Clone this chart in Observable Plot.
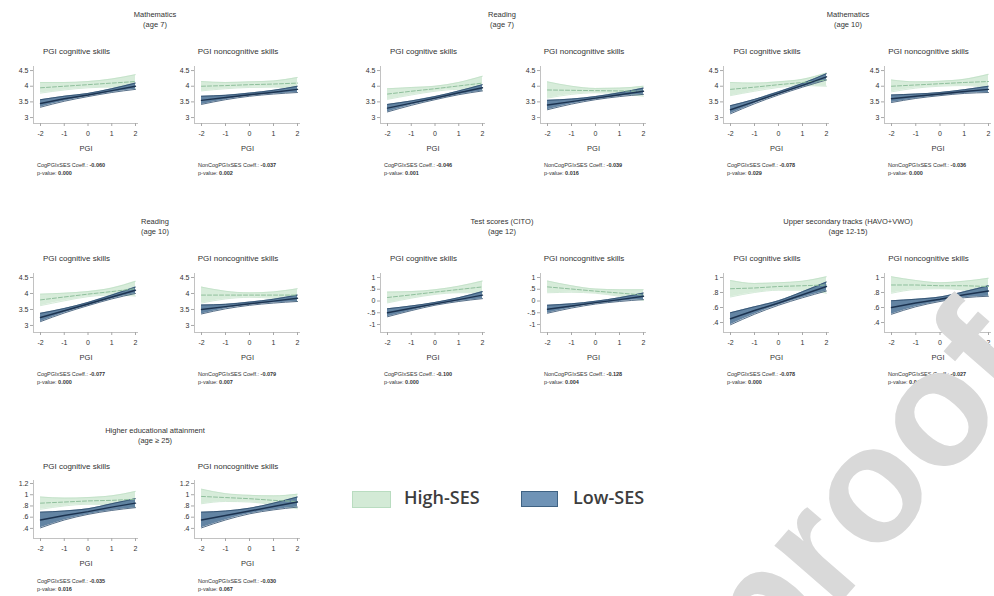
<!DOCTYPE html>
<html>
<head>
<meta charset="utf-8">
<script src="https://cdn.jsdelivr.net/npm/d3@7"></script>
<script src="https://cdn.jsdelivr.net/npm/@observablehq/plot@0.6"></script>
<style>
  body { margin: 0; background: #fff; }
  #root { position: relative; width: 994px; height: 596px; overflow: hidden; background: #fff;
          font-family: "Liberation Sans", Arial, sans-serif; color: #333; }
  .abs { position: absolute; white-space: nowrap; }
  .ttl { font-size: 7.5px; line-height: 10px; text-align: center; transform: translateX(-50%); }
  .sub { font-size: 8px; transform: translateX(-50%); }
  .cap { font-size: 5.5px; line-height: 7.5px; }
  .cap b { font-weight: 700; }
  .leg { font-family: "Open Sans", sans-serif; font-size: 18px; font-weight: 600; color: #3d3d3d; }
  .wm { font-family: "Liberation Sans", Arial, sans-serif; font-weight: 700; font-size: 165px; color: #d9d9d9;
        transform-origin: 0 0; transform: rotate(-49deg); pointer-events: none; line-height: 1; }
</style>
</head>
<body>
<div id="root"></div>
<script>
// ---------------- DATA ----------------
const pgi = [-2, -1, 0, 1, 2];
const outcomes = [
  ["Mathematics", "(age 7)"],
  ["Reading", "(age 7)"],
  ["Mathematics", "(age 10)"],
  ["Reading", "(age 10)"],
  ["Test scores (CITO)", "(age 12)"],
  ["Upper secondary tracks (HAVO+VWO)", "(age 12-15)"],
  ["Higher educational attainment", "(age \u2265 25)"]
];
const skills = ["PGI cognitive skills", "PGI noncognitive skills"];
const coefLabels = ["CogPGIxSES Coeff.: ", "NonCogPGIxSES Coeff.: "];
const yTicksByOutcome = [
  [3, 3.5, 4, 4.5], [3, 3.5, 4, 4.5], [3, 3.5, 4, 4.5], [3, 3.5, 4, 4.5],
  [-1, -0.5, 0, 0.5, 1], [0.4, 0.6, 0.8, 1], [0.4, 0.6, 0.8, 1, 1.2]
];
const yTickLabels = [
  ["3", "3.5", "4", "4.5"], ["3", "3.5", "4", "4.5"], ["3", "3.5", "4", "4.5"], ["3", "3.5", "4", "4.5"],
  ["-1", "-.5", "0", ".5", "1"], [".4", ".6", ".8", "1"], [".4", ".6", ".8", "1", "1.2"]
];
const yDomains = [
  [2.81, 4.63], [2.81, 4.63], [2.81, 4.63], [2.78, 4.625],
  [-1.34, 1.17], [0.267, 1.053], [0.22, 1.254]
];
// 14 panels: outcome i -> panels 2i (cognitive), 2i+1 (noncognitive); values at pgi = -2..2
const highMid = [
  [3.95, 4.0, 4.05, 4.1, 4.15], [4.0, 4.02, 4.05, 4.07, 4.1],
  [3.75, 3.84, 3.92, 4.01, 4.1], [3.88, 3.87, 3.86, 3.85, 3.84],
  [3.9, 3.97, 4.05, 4.12, 4.2], [4.0, 4.04, 4.08, 4.12, 4.15],
  [3.8, 3.89, 3.98, 4.06, 4.15], [3.95, 3.95, 3.95, 3.95, 3.95],
  [0.15, 0.26, 0.38, 0.49, 0.6], [0.6, 0.51, 0.42, 0.34, 0.25],
  [0.85, 0.86, 0.88, 0.89, 0.9], [0.9, 0.9, 0.89, 0.89, 0.88],
  [0.85, 0.87, 0.89, 0.9, 0.92], [0.97, 0.95, 0.93, 0.9, 0.88]
];
const highLo = [
  [3.78, 3.88, 3.95, 3.97, 3.93], [3.85, 3.92, 3.96, 3.97, 3.92],
  [3.58, 3.72, 3.84, 3.9, 3.88], [3.62, 3.74, 3.79, 3.76, 3.68],
  [3.7, 3.84, 3.96, 4.02, 4.0], [3.82, 3.94, 4.0, 4.02, 3.95],
  [3.62, 3.77, 3.9, 3.95, 3.92], [3.7, 3.83, 3.88, 3.85, 3.75],
  [-0.08, 0.12, 0.28, 0.35, 0.35], [0.35, 0.37, 0.33, 0.2, 0.02],
  [0.74, 0.8, 0.83, 0.83, 0.79], [0.79, 0.84, 0.85, 0.83, 0.77],
  [0.74, 0.8, 0.83, 0.82, 0.78], [0.84, 0.88, 0.87, 0.82, 0.75]
];
const highHi = [
  [4.12, 4.12, 4.15, 4.23, 4.37], [4.15, 4.12, 4.14, 4.17, 4.28],
  [3.92, 3.96, 4.0, 4.12, 4.32], [4.14, 4.0, 3.93, 3.94, 4.0],
  [4.12, 4.1, 4.14, 4.22, 4.42], [4.2, 4.14, 4.16, 4.22, 4.38],
  [3.98, 4.01, 4.06, 4.17, 4.38], [4.2, 4.07, 4.02, 4.05, 4.15],
  [0.38, 0.4, 0.48, 0.63, 0.85], [0.85, 0.65, 0.51, 0.48, 0.48],
  [0.96, 0.92, 0.93, 0.95, 1.01], [1.01, 0.96, 0.93, 0.95, 0.99],
  [0.96, 0.94, 0.95, 0.98, 1.06], [1.1, 1.02, 0.99, 0.98, 1.01]
];
const lowMid = [
  [3.45, 3.6, 3.72, 3.86, 4.0], [3.55, 3.64, 3.73, 3.81, 3.9],
  [3.3, 3.46, 3.62, 3.79, 3.95], [3.4, 3.51, 3.62, 3.73, 3.84],
  [3.25, 3.51, 3.77, 4.03, 4.3], [3.6, 3.68, 3.75, 3.83, 3.9],
  [3.25, 3.46, 3.67, 3.89, 4.1], [3.5, 3.59, 3.68, 3.76, 3.85],
  [-0.5, -0.31, -0.12, 0.06, 0.25], [-0.35, -0.21, -0.07, 0.06, 0.2],
  [0.45, 0.56, 0.66, 0.77, 0.88], [0.6, 0.66, 0.71, 0.77, 0.82],
  [0.55, 0.63, 0.7, 0.78, 0.85], [0.55, 0.63, 0.71, 0.79, 0.87]
];
const lowLo = [
  [3.33, 3.52, 3.67, 3.8, 3.9], [3.42, 3.57, 3.68, 3.75, 3.8],
  [3.18, 3.39, 3.57, 3.73, 3.85], [3.25, 3.43, 3.57, 3.67, 3.74],
  [3.12, 3.44, 3.72, 3.97, 4.2], [3.48, 3.61, 3.7, 3.77, 3.8],
  [3.12, 3.39, 3.62, 3.83, 4.0], [3.36, 3.52, 3.63, 3.7, 3.75],
  [-0.67, -0.41, -0.18, -0.02, 0.1], [-0.52, -0.3, -0.13, -0.02, 0.06],
  [0.37, 0.51, 0.63, 0.73, 0.82], [0.51, 0.61, 0.68, 0.73, 0.75],
  [0.41, 0.55, 0.65, 0.72, 0.77], [0.41, 0.55, 0.66, 0.73, 0.78]
];
const lowHi = [
  [3.57, 3.68, 3.77, 3.92, 4.1], [3.68, 3.71, 3.78, 3.87, 4.0],
  [3.42, 3.53, 3.67, 3.85, 4.05], [3.55, 3.59, 3.67, 3.79, 3.94],
  [3.38, 3.58, 3.82, 4.09, 4.4], [3.72, 3.75, 3.8, 3.89, 4.0],
  [3.38, 3.53, 3.72, 3.95, 4.2], [3.64, 3.66, 3.73, 3.82, 3.95],
  [-0.33, -0.21, -0.06, 0.14, 0.4], [-0.18, -0.12, -0.01, 0.14, 0.34],
  [0.53, 0.61, 0.69, 0.81, 0.94], [0.69, 0.71, 0.74, 0.81, 0.89],
  [0.69, 0.71, 0.75, 0.84, 0.93], [0.69, 0.71, 0.76, 0.85, 0.96]
];
const coeffs = ["-0.060", "-0.037", "-0.046", "-0.039", "-0.078", "-0.036", "-0.077", "-0.079",
                "-0.100", "-0.128", "-0.078", "-0.027", "-0.035", "-0.030"];
const pvalues = ["0.000", "0.002", "0.001", "0.016", "0.029", "0.000", "0.000", "0.007",
                 "0.000", "0.004", "0.000", "0.048", "0.016", "0.067"];
const legendLabels = ["High-SES", "Low-SES"];

// ---------------- LAYOUT ----------------
const colPanels = [[[40, 135], [201, 297]], [[387, 482], [547, 643]], [[730, 826], [891, 988]]];
const colCenters = [155, 502, 848];
const rows = [
  { title: 10, sub: 47, fTop: 66, fBot: 123, cap: 162 },
  { title: 217, sub: 254, fTop: 273, fBot: 332, cap: 371 },
  { title: 426, sub: 462, fTop: 480, fBot: 538, cap: 578 }
];
const C = {
  highFill: "#d3ead6", highStroke: "#b9dcc0", highLine: "#8fbf9c",
  lowFill: "#56799b", lowStroke: "#2c4a69", lowLine: "#1c3350",
  axis: "#a8a8a8", text: "#333"
};

const root = document.getElementById("root");
function addDiv(cls, x, y, html) {
  const d = document.createElement("div");
  d.className = "abs " + cls;
  d.style.left = x + "px";
  d.style.top = y + "px";
  d.innerHTML = html;
  root.appendChild(d);
  return d;
}

outcomes.forEach((oc, i) => {
  const r = rows[Math.floor(i / 3)];
  const c = i % 3;
  addDiv("ttl", colCenters[c], r.title, oc[0] + "<br>" + oc[1]);
  [0, 1].forEach(k => {
    const p = 2 * i + k;
    const [x1, x2] = colPanels[c][k];
    const ML = 28, MR = 4, MT = 3, MB = 34, insL = 7, insR = 3;
    const frameW = (x2 - x1) + insL + insR;
    const frameH = r.fBot - r.fTop;
    const rowsData = pgi.map((x, j) => ({
      x, hm: highMid[p][j], hl: highLo[p][j], hh: highHi[p][j],
      lm: lowMid[p][j], ll: lowLo[p][j], lh: lowHi[p][j]
    }));
    const ticks = yTicksByOutcome[i];
    const labels = yTickLabels[i];
    const chart = Plot.plot({
      width: ML + frameW + MR,
      height: MT + frameH + MB,
      marginLeft: ML, marginRight: MR, marginTop: MT, marginBottom: MB,
      style: { fontSize: "7px", fontFamily: "Liberation Sans, Arial, sans-serif", color: C.text, background: "transparent", overflow: "visible" },
      x: { domain: [-2, 2], insetLeft: insL, insetRight: insR },
      y: { domain: yDomains[i] },
      marks: [
        Plot.areaY(rowsData, { x: "x", y1: "hl", y2: "hh", fill: C.highFill, fillOpacity: 0.9, curve: "monotone-x" }),
        Plot.lineY(rowsData, { x: "x", y: "hl", stroke: C.highStroke, strokeWidth: 0.6, curve: "monotone-x" }),
        Plot.lineY(rowsData, { x: "x", y: "hh", stroke: C.highStroke, strokeWidth: 0.6, curve: "monotone-x" }),
        Plot.areaY(rowsData, { x: "x", y1: "ll", y2: "lh", fill: C.lowFill, fillOpacity: 0.92, curve: "monotone-x" }),
        Plot.lineY(rowsData, { x: "x", y: "ll", stroke: C.lowStroke, strokeWidth: 0.8, curve: "monotone-x" }),
        Plot.lineY(rowsData, { x: "x", y: "lh", stroke: C.lowStroke, strokeWidth: 0.8, curve: "monotone-x" }),
        Plot.lineY(rowsData, { x: "x", y: "hm", stroke: C.highLine, strokeWidth: 1, strokeDasharray: "4,2" }),
        Plot.lineY(rowsData, { x: "x", y: "lm", stroke: C.lowLine, strokeWidth: 1.4 }),
        Plot.ruleX([-2], { dx: -insL, stroke: C.axis, strokeWidth: 0.7 }),
        Plot.ruleY([yDomains[i][0]], { stroke: C.axis, strokeWidth: 0.7 }),
        Plot.axisY({ ticks, tickFormat: d => labels[ticks.indexOf(d)], tickSize: 3, tickPadding: 2,
                     stroke: C.axis, fill: C.text, label: null }),
        Plot.axisX({ ticks: pgi, tickFormat: d => String(d), tickSize: 3, tickPadding: 5,
                     stroke: C.axis, fill: C.text, label: null }),
        Plot.text(["PGI"], { frameAnchor: "bottom", dy: 27, fontSize: 7.5, fill: C.text })
      ]
    });
    chart.style.position = "absolute";
    chart.style.left = (x1 - insL - ML) + "px";
    chart.style.top = (r.fTop - MT) + "px";
    root.appendChild(chart);
    addDiv("sub", (x1 - 22 + x2) / 2, r.sub, skills[k]);
    addDiv("cap", x1 - 3, r.cap, coefLabels[k] + "<b>" + coeffs[p] + "</b><br>p-value: <b>" + pvalues[p] + "</b>");
  });
});

// ---------------- LEGEND ----------------
const sw1 = addDiv("", 352, 491, "");
sw1.style.cssText += "width:37px;height:15px;background:" + C.highFill + ";border:1px solid " + C.highStroke + ";";
addDiv("leg", 404, 485, legendLabels[0]);
const sw2 = addDiv("", 521, 491, "");
sw2.style.cssText += "width:35px;height:14px;background:#6f93b6;border:1.5px solid #3f6283;";
addDiv("leg", 573, 485, legendLabels[1]);

// ---------------- WATERMARK ----------------
addDiv("wm", 662, 596, "proof");
</script>
</body>
</html>
